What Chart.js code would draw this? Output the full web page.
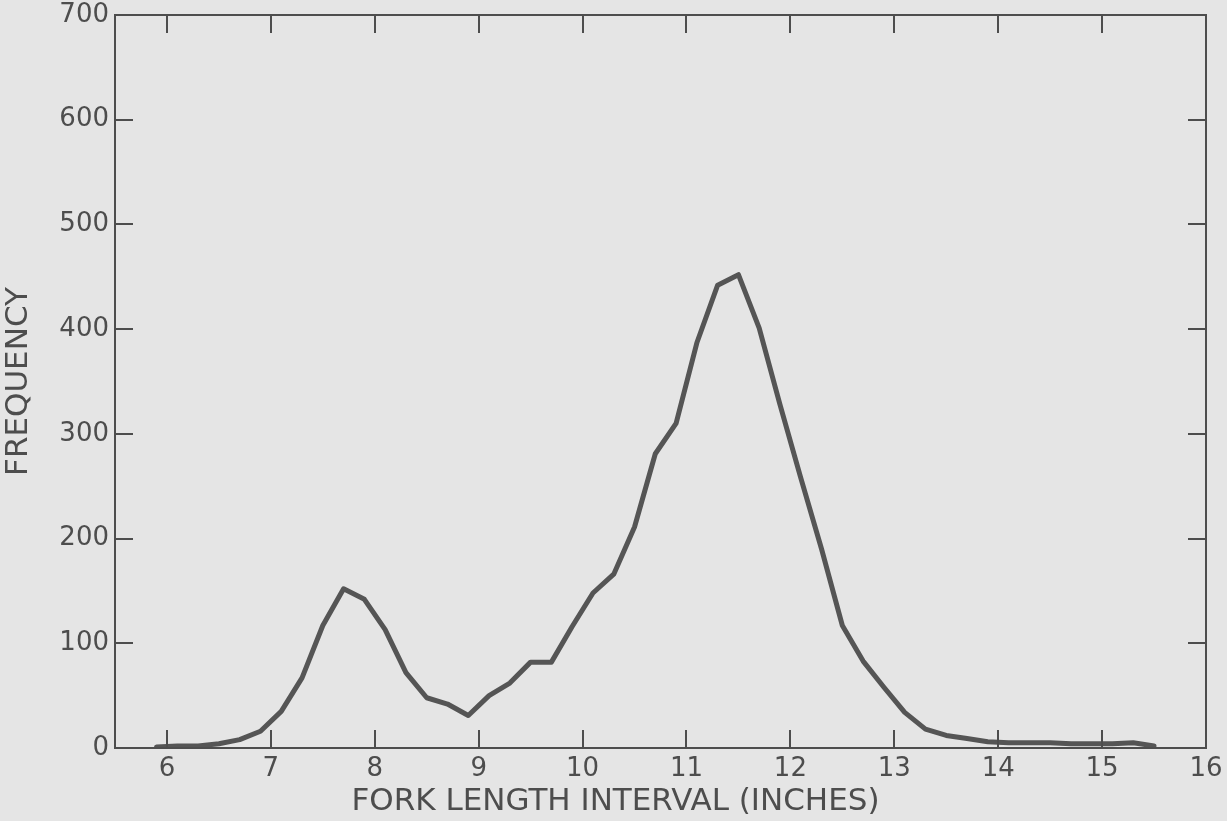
<!DOCTYPE html>
<html lang="en">
<head>
    <meta charset="UTF-8">
    <title>Fork Length Frequency</title>
    <script src="https://cdn.jsdelivr.net/npm/chart.js"></script>
    <style>
        html, body {
            margin: 0;
            padding: 0;
            background: #e5e5e5;
        }
        .chart-box {
            width: 1227px;
            height: 821px;
        }
    </style>
</head>
<body>
    <div class="chart-box">
        <canvas id="lengthChart" width="1227" height="821"></canvas>
    </div>
    <script>
        // Fork length interval midpoints (inches) and fish counts
        const forkLength = [
            5.9, 6.1, 6.3, 6.5, 6.7, 6.9, 7.1, 7.3, 7.5, 7.7,
            7.9, 8.1, 8.3, 8.5, 8.7, 8.9, 9.1, 9.3, 9.5, 9.7,
            9.9, 10.1, 10.3, 10.5, 10.7, 10.9, 11.1, 11.3, 11.5, 11.7,
            11.9, 12.1, 12.3, 12.5, 12.7, 12.9, 13.1, 13.3, 13.5, 13.7,
            13.9, 14.1, 14.3, 14.5, 14.7, 14.9, 15.1, 15.3, 15.5
        ];
        const frequency = [
            1, 2, 2, 4, 8, 16, 35, 67, 117, 152,
            142, 113, 72, 48, 42, 31, 50, 62, 82, 82,
            116, 148, 166, 211, 281, 310, 387, 442, 452, 401,
            328, 258, 190, 117, 83, 58, 34, 18, 12, 9,
            6, 5, 5, 5, 4, 4, 4, 5, 2
        ];
        const xTicks = [6, 7, 8, 9, 10, 11, 12, 13, 14, 15, 16];
        const yTicks = [0, 100, 200, 300, 400, 500, 600, 700];

        const xTitle = "FORK LENGTH INTERVAL (INCHES)";
        const yTitle = "FREQUENCY";

        const ink = "#4d4d4d";
        const labelFont = "'DejaVu Sans', sans-serif";

        // paper background, box frame with inward ticks, x axis caption
        const framePlugin = {
            id: "frame",
            beforeDraw(chart) {
                const ctx = chart.ctx;
                ctx.save();
                ctx.fillStyle = "#e5e5e5";
                ctx.fillRect(0, 0, chart.width, chart.height);
                ctx.restore();
            },
            afterDraw(chart) {
                const ctx = chart.ctx;
                const a = chart.chartArea;
                const xs = chart.scales.x;
                const ys = chart.scales.y;
                const tick = 18;

                ctx.save();
                ctx.strokeStyle = ink;
                ctx.lineWidth = 2;
                ctx.strokeRect(a.left, a.top, a.right - a.left, a.bottom - a.top);

                ctx.beginPath();
                xs.ticks.forEach(t => {
                    if (t.value <= xs.min || t.value >= xs.max) return;
                    const px = Math.round(xs.getPixelForValue(t.value));
                    ctx.moveTo(px, a.bottom);
                    ctx.lineTo(px, a.bottom - tick);
                    ctx.moveTo(px, a.top);
                    ctx.lineTo(px, a.top + tick);
                });
                ys.ticks.forEach(t => {
                    if (t.value <= ys.min || t.value >= ys.max) return;
                    const py = Math.round(ys.getPixelForValue(t.value));
                    ctx.moveTo(a.left, py);
                    ctx.lineTo(a.left + tick, py);
                    ctx.moveTo(a.right, py);
                    ctx.lineTo(a.right - tick, py);
                });
                ctx.stroke();

                ctx.fillStyle = ink;
                ctx.font = "31px " + labelFont;
                ctx.textAlign = "center";
                ctx.textBaseline = "middle";
                const cx = (a.left + a.right) / 2 - 45;
                ctx.fillText(xTitle, cx, a.bottom + 54);
                ctx.restore();
            }
        };

        const ctx = document.getElementById("lengthChart").getContext("2d");
        new Chart(ctx, {
            type: "line",
            data: {
                datasets: [{
                    data: forkLength.map((x, i) => ({ x: x, y: frequency[i] })),
                    borderColor: "#555555",
                    borderWidth: 5,
                    pointRadius: 0,
                    tension: 0,
                    borderJoinStyle: "round",
                    borderCapStyle: "round",
                    fill: false
                }]
            },
            options: {
                responsive: false,
                animation: false,
                layout: {
                    padding: { top: 15, right: 21, bottom: 0, left: 0 }
                },
                plugins: {
                    legend: { display: false },
                    tooltip: { enabled: false }
                },
                scales: {
                    x: {
                        type: "linear",
                        min: 5.5,
                        max: 16,
                        afterBuildTicks: scale => {
                            scale.ticks = xTicks.map(v => ({ value: v }));
                        },
                        afterFit: scale => {
                            scale.height = 73;
                            scale.paddingLeft = 0;
                            scale.paddingRight = 0;
                        },
                        grid: { display: false, drawTicks: false },
                        border: { display: false },
                        ticks: {
                            color: ink,
                            padding: 6,
                            maxRotation: 0,
                            autoSkip: false,
                            font: { family: labelFont, size: 26 }
                        }
                    },
                    y: {
                        min: 0,
                        max: 700,
                        afterBuildTicks: scale => {
                            scale.ticks = yTicks.map(v => ({ value: v }));
                        },
                        afterFit: scale => {
                            scale.width = 115;
                            scale.paddingTop = 0;
                            scale.paddingBottom = 0;
                        },
                        grid: { display: false, drawTicks: false },
                        border: { display: false },
                        ticks: {
                            color: ink,
                            padding: 6,
                            font: { family: labelFont, size: 26 }
                        },
                        title: {
                            display: true,
                            text: yTitle,
                            color: ink,
                            padding: 0,
                            font: { family: labelFont, size: 31 }
                        }
                    }
                }
            },
            plugins: [framePlugin]
        });
    </script>
</body>
</html>
